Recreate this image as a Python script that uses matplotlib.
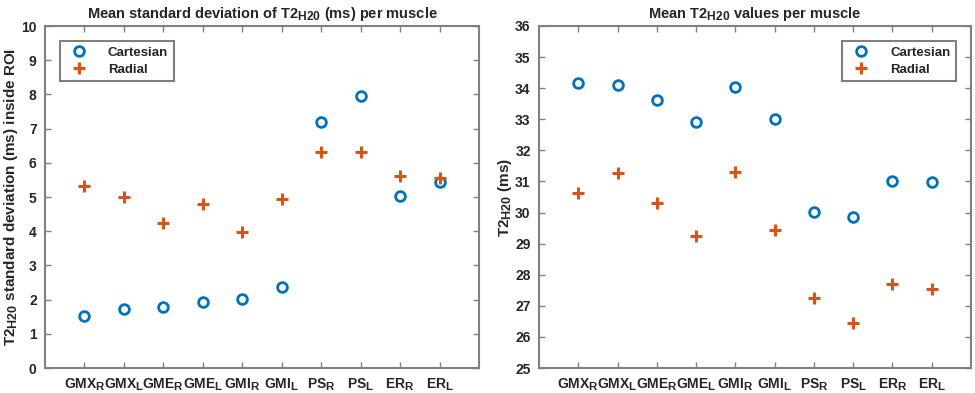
import matplotlib
matplotlib.use('Agg')
import matplotlib.pyplot as plt
import matplotlib._mathtext as mathtext

muscles = ['GMX$_R$', 'GMX$_L$', 'GME$_R$', 'GME$_L$', 'GMI$_R$',
           'GMI$_L$', 'PS$_R$', 'PS$_L$', 'ER$_R$', 'ER$_L$']

# mean standard deviation of T2 water inside ROI (ms)
sd_cartesian = [1.53, 1.73, 1.79, 1.93, 2.02, 2.38, 7.19, 7.94, 5.03, 5.44]
sd_radial = [5.32, 5.00, 4.25, 4.80, 3.98, 4.95, 6.31, 6.31, 5.60, 5.55]

# mean T2 water values (ms)
t2_cartesian = [34.18, 34.09, 33.61, 32.90, 34.05, 33.00, 30.03, 29.85, 31.00, 30.97]
t2_radial = [30.62, 31.27, 30.30, 29.24, 31.30, 29.44, 27.26, 26.45, 27.70, 27.54]

# subscripts in the original are drawn almost full size
mathtext.SHRINK_FACTOR = 0.82

plt.rcParams['font.family'] = 'Liberation Sans'
plt.rcParams['font.weight'] = 'bold'
plt.rcParams['axes.titleweight'] = 'bold'
plt.rcParams['axes.labelweight'] = 'bold'
plt.rcParams['mathtext.fontset'] = 'custom'
plt.rcParams['mathtext.rm'] = 'Liberation Sans:bold'
plt.rcParams['mathtext.it'] = 'Liberation Sans:bold'
plt.rcParams['mathtext.bf'] = 'Liberation Sans:bold'
plt.rcParams['mathtext.sf'] = 'Liberation Sans:bold'

blue = '#0072BD'
orange = '#D95319'
grey = '#808080'
txt = '#262626'


def muscle_panel(ax, cart, rad, ylim, yticks, ylabel, title, legend_loc):
    x = range(1, len(muscles) + 1)
    ax.plot(x, cart, linestyle='none', marker='o', markersize=7, markerfacecolor='none',
            markeredgecolor=blue, markeredgewidth=2, label='Cartesian')
    ax.plot(x, rad, linestyle='none', marker='+', markersize=8,
            markeredgecolor=orange, markeredgewidth=2.2, label='Radial')
    ax.set_xlim(0, 11)
    ax.set_ylim(*ylim)
    ax.set_xticks(list(x))
    ax.set_xticklabels(muscles)
    ax.set_yticks(yticks)
    ax.tick_params(direction='in', top=True, right=True, length=4, width=1,
                   color=grey, labelcolor=txt, labelsize=10, pad=6)
    for s in ax.spines.values():
        s.set_color(grey)
        s.set_linewidth(1.5)
    ax.set_ylabel(ylabel, fontsize=11, color=txt, labelpad=1)
    ax.set_title(title, fontsize=10.5, color=txt, pad=6)
    leg = ax.legend(loc=legend_loc, fancybox=False, framealpha=1, edgecolor=grey,
                    fontsize=9.5, borderpad=0.45, handletextpad=1.2, labelspacing=0.35,
                    borderaxespad=1.1)
    leg.get_frame().set_linewidth(1.5)
    for t in leg.get_texts():
        t.set_color(txt)


fig = plt.figure(figsize=(9.75, 3.93), dpi=100)
ax1 = fig.add_axes([45 / 975, 1 - 368 / 393, 434 / 975, 342 / 393])
ax2 = fig.add_axes([539 / 975, 1 - 368 / 393, 432 / 975, 342 / 393])

muscle_panel(ax1, sd_cartesian, sd_radial, (0, 10), range(0, 11),
             'T2$_{H20}$ standard deviation (ms) inside ROI',
             'Mean standard deviation of T2$_{H20}$ (ms) per muscle', 'upper left')
muscle_panel(ax2, t2_cartesian, t2_radial, (25, 36), range(25, 37),
             'T2$_{H20}$ (ms)', 'Mean T2$_{H20}$ values per muscle', 'upper right')

fig.savefig('out.png', dpi=100)
